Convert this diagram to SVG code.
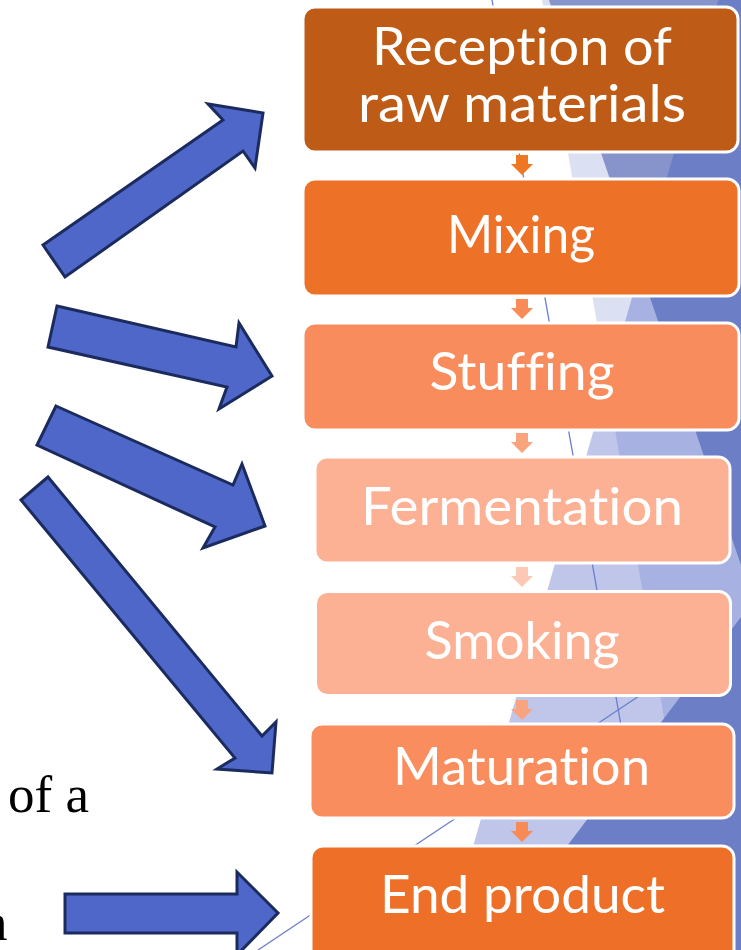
<svg xmlns="http://www.w3.org/2000/svg" width="741" height="950" viewBox="0 0 741 950">
  <defs>
    <style>
      .box { stroke: #ffffff; stroke-width: 3; }
      .label { font-family: Lato, "Open Sans", "DejaVu Sans", sans-serif; font-size: 52px; fill: #ffffff; text-anchor: middle; font-variant-ligatures: none; font-feature-settings: "liga" 0, "clig" 0; }
      .pointer { fill: #4E67C8; stroke: #1C2B5E; stroke-width: 3; stroke-linejoin: miter; }
      .thin { stroke: #6B7FCB; stroke-width: 1.3; fill: none; }
      .body { font-family: "Liberation Serif", "Times New Roman", serif; font-size: 53px; fill: #000000; }
    </style>
    <!-- small downward step arrow, centred on x = 522 -->
    <path id="step" d="M516,0 h12 v9 h5 l-11,11 l-11,-11 h5 z"/>
  </defs>

  <rect width="741" height="950" fill="#ffffff"/>

  <!-- translucent facets along the right edge -->
  <g id="backdrop">
    <polygon points="542,0 741,0 741,950 703.5,950" fill="#DCE0F3"/>
    <polygon points="718.4,0 741,0 741,950 443,950" fill="#BFC6EA"/>
    <polygon points="718.4,0 741,0 741,950 703.5,950 607.2,383.5" fill="#A7B1E2"/>
    <polygon points="549,0 741,0 741,564.7" fill="#8794CB"/>
    <polygon points="718.4,0 741,0 741,564.7 640.4,268.9" fill="#6C7EC5"/>
    <polygon points="741,617 741,950 488,950" fill="#6C7EC5"/>
    <line class="thin" x1="492" y1="0" x2="661" y2="950"/>
    <line class="thin" x1="258" y1="950" x2="741" y2="628"/>
  </g>

  <!-- process steps -->
  <g id="reception">
    <rect class="box" x="303" y="7" width="435" height="145" rx="12" fill="#BE5B16"/>
    <text class="label" x="522" y="65" textLength="300" lengthAdjust="spacingAndGlyphs">Reception of</text>
    <text class="label" x="522" y="122" textLength="328" lengthAdjust="spacingAndGlyphs">raw materials</text>
  </g>
  <g id="mixing">
    <rect class="box" x="303" y="179" width="436" height="117" rx="12" fill="#EE7128"/>
    <text class="label" x="521" y="253" textLength="148" lengthAdjust="spacingAndGlyphs">Mixing</text>
  </g>
  <g id="stuffing">
    <rect class="box" x="303" y="323" width="436" height="107" rx="12" fill="#F88C5C"/>
    <text class="label" x="522" y="390" textLength="185" lengthAdjust="spacingAndGlyphs">Stuffing</text>
  </g>
  <g id="fermentation">
    <rect class="box" x="315" y="457" width="415" height="106" rx="12" fill="#FCB194"/>
    <text class="label" x="522" y="525" textLength="322" lengthAdjust="spacingAndGlyphs">Fermentation</text>
  </g>
  <g id="smoking">
    <rect class="box" x="315.5" y="591.5" width="415" height="104" rx="12" fill="#FCB194"/>
    <text class="label" x="522" y="659" textLength="195" lengthAdjust="spacingAndGlyphs">Smoking</text>
  </g>
  <g id="maturation">
    <rect class="box" x="310" y="724" width="424" height="94" rx="12" fill="#F98D5D"/>
    <text class="label" x="521.5" y="785" textLength="257" lengthAdjust="spacingAndGlyphs">Maturation</text>
  </g>
  <g id="end-product">
    <rect class="box" x="311" y="846" width="423" height="120" rx="12" fill="#EE7028"/>
    <text class="label" x="522.5" y="913" textLength="285" lengthAdjust="spacingAndGlyphs">End product</text>
  </g>

  <g id="connectors">
    <!-- step arrows between boxes -->
    <use href="#step" x="0" y="155" fill="#EF7722"/>
    <use href="#step" x="0" y="299" fill="#F88B56"/>
    <use href="#step" x="0" y="433" fill="#F9A47C"/>
    <use href="#step" x="0" y="567" fill="#FDC9B6"/>
    <use href="#step" x="0" y="700" fill="#FAA47F"/>
    <use href="#step" x="0" y="822" fill="#F88A55"/>
    <!-- block pointers from the left -->
    <polygon class="pointer" points="43,245 223,120 208,104 263,113 255,168 243,151 65,277"/>
    <polygon class="pointer" points="57,306 236,347 239,323 272,376 219,409 227,387 48,347"/>
    <polygon class="pointer" points="56,406 233,485 242,464 265,526 203,548 215,527 37,445"/>
    <polygon class="pointer" points="48,477 262,736 276,722 272,773 217,769 235,758 21,500"/>
    <polygon class="pointer" points="65,894 237,894 237,872 278,913 237,955 237,933 65,933"/>
  </g>

  <g id="side-text">
    <text class="body" x="8" y="812">of a</text>
    <text class="body" x="-19" y="940">n</text>
  </g>
</svg>
